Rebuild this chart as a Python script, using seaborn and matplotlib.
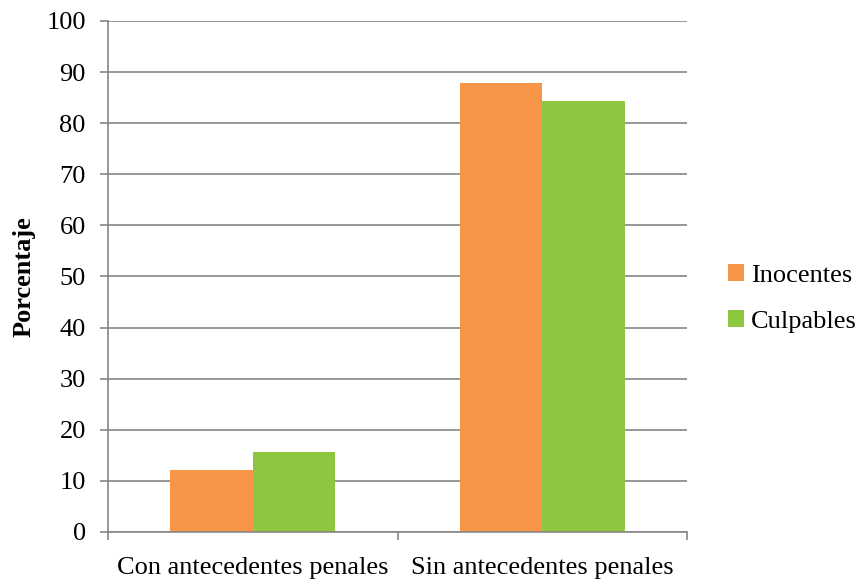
import matplotlib
matplotlib.use("Agg")
import matplotlib.pyplot as plt
import seaborn as sns
import pandas as pd
from matplotlib.ticker import FixedLocator
from matplotlib.patches import Patch

categories = ["Con antecedentes penales", "Sin antecedentes penales"]
inocentes = [12.2, 87.8]
culpables = [15.6, 84.4]
series_names = ["Inocentes", "Culpables"]
colors = ["#F79646", "#8DC63F"]

df = pd.DataFrame({
    "cat": categories * 2,
    "grupo": [series_names[0]] * 2 + [series_names[1]] * 2,
    "valor": inocentes + culpables,
})

sns.set_theme(style="white")
plt.rcParams["font.family"] = ["Liberation Serif", "DejaVu Serif"]
plt.rcParams["text.color"] = "black"
plt.rcParams["axes.labelcolor"] = "black"

fig = plt.figure(figsize=(8.58, 5.83), dpi=100)
ax = fig.add_axes([0.1259, 0.0875, 0.6748, 0.8765])

sns.barplot(data=df, x="cat", y="valor", hue="grupo", palette=colors,
            width=0.57, ax=ax, legend=False, saturation=1, linewidth=0)

grid_c = "#868686"
fs = 19
ax.set_ylim(0, 100)
ax.set_xlim(-0.5, 1.5)
ax.set_yticks(range(0, 101, 10))
ax.yaxis.grid(True, color=grid_c, linewidth=1.2)
ax.set_axisbelow(True)
for s in ["top", "right"]:
    ax.spines[s].set_visible(False)
for s in ["left", "bottom"]:
    ax.spines[s].set_color(grid_c)
    ax.spines[s].set_linewidth(1.2)

ax.tick_params(axis="y", which="major", length=6, width=1.2, color=grid_c,
               labelsize=fs, labelcolor="black", pad=10, left=True)
ax.tick_params(axis="x", which="major", length=0, labelsize=fs,
               labelcolor="black", pad=18)
ax.xaxis.set_minor_locator(FixedLocator([-0.5, 0.5, 1.5]))
ax.tick_params(axis="x", which="minor", length=6, width=1.2, color=grid_c,
               bottom=True)

ax.set_xlabel("")
ax.set_ylabel("Porcentaje", fontsize=fs, fontweight="bold", labelpad=7.5)

handles = [Patch(facecolor=c, edgecolor="none") for c in colors]
fig.legend(handles, series_names, loc="center left",
           bbox_to_anchor=(0.821, 0.488), frameon=False, fontsize=fs,
           handlelength=0.6, handleheight=0.6, handletextpad=0.25,
           labelspacing=0.9)

fig.savefig("out.png", dpi=100)
